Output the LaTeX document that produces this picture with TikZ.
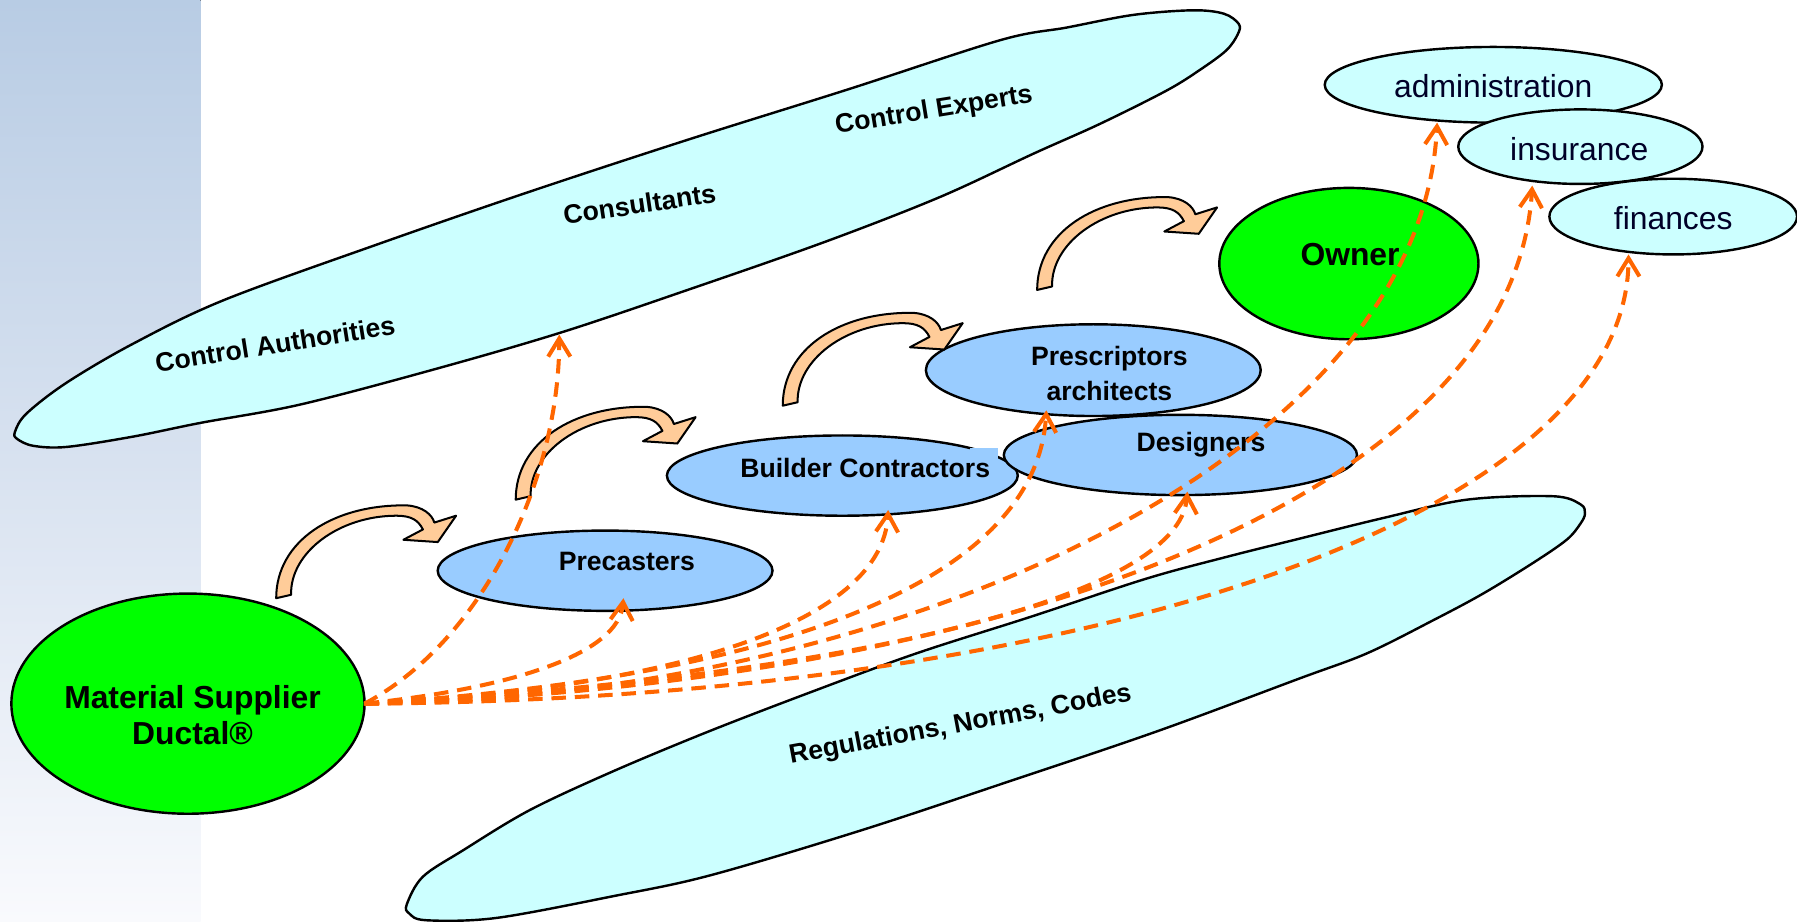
\documentclass[tikz,border=0pt]{standalone}
\usepackage{fontspec}
\setmainfont{Liberation Sans}
\usetikzlibrary{shapes.geometric,arrows.meta,calc}
\definecolor{cyanfill}{RGB}{204,255,255}
\definecolor{bluefill}{RGB}{153,204,255}
\definecolor{greenfill}{RGB}{0,255,0}
\definecolor{peach}{RGB}{255,204,153}
\definecolor{arrorange}{RGB}{255,102,0}
\definecolor{navytext}{RGB}{0,0,40}
\definecolor{stripTop}{RGB}{184,204,228}
\definecolor{stripMid}{RGB}{216,226,240}
\definecolor{stripBot}{RGB}{249,250,253}
\begin{document}
\begin{tikzpicture}[x=0.01cm,y=-0.01cm,
  oval/.style={ellipse, draw=black, line width=0.6pt, inner sep=0pt, outer sep=0pt},
  freeshape/.style={draw=black, line width=0.6pt, fill=cyanfill},
  smalllbl/.style={font=\fontsize{6.6pt}{8.8pt}\selectfont\bfseries, inner sep=0pt, align=center},
  biglbl/.style={font=\fontsize{7.9pt}{9.1pt}\selectfont\bfseries, inner sep=0pt, align=center},
  reglbl/.style={font=\fontsize{7.9pt}{9.1pt}\selectfont, text=navytext, inner sep=0pt},
  flowarrow/.style={draw=arrorange, line width=1pt, dash pattern=on 3.6pt off 2.2pt,
    -{Straight Barb[length=4.5pt,width=5.5pt]}},
  bentarrow/.pic={
    \draw[fill=peach, line width=0.5pt, line join=round]
      (0,0) .. controls (0,-50) and (50,-82) .. (114,-81)
      .. controls (128,-80) and (136,-73) .. (138,-66)
      -- (157,-72) -- (141,-49) -- (111,-51) -- (128,-60)
      .. controls (124,-68) and (118,-72) .. (105,-72)
      .. controls (55,-72) and (12,-40) .. (13,-3) -- cycle;
  }]
\useasboundingbox (0,0) rectangle (1568,804);
% background strip
\fill[top color=stripTop, bottom color=stripBot, middle color=stripMid] (0,0) rectangle (175,804);

% big cyan shape: control bodies
\draw[freeshape] plot[smooth cycle, tension=0.55] coordinates {
  (13,377) (23,361) (58,334) (116,300) (195,262) (330,213) (460,168) (600,122)
  (740,78) (873,35) (931,24) (989,13) (1041,9) (1068,12) (1081,21) (1080,30)
  (1070,44) (1047,61) (1018,79) (960,108) (902,134) (820,172) (720,211)
  (600,253) (490,290) (380,322) (262,353) (175,369) (116,381) (58,390) (29,389) (15,383)};
\coordinate (ca) at (547,200);
\node[smalllbl, rotate=9] (tca) at (240,300) {Control Authorities};
\node[smalllbl, rotate=8.5] (tcons) at (558,178) {Consultants};
\node[smalllbl, rotate=9.2] (texp) at (815,97) {Control Experts};

% big cyan shape: regulations
\draw[freeshape] plot[smooth cycle, tension=0.55] coordinates {
  (355,789) (369,765) (404,742) (462,707) (535,673) (619,638) (710,603) (800,570)
  (900,538) (1000,505) (1070,486) (1134,470) (1207,452) (1280,436) (1355,433)
  (1379,440) (1383,448) (1379,457) (1367,471) (1338,491) (1294,518) (1251,541)
  (1193,570) (1134,592) (1010,638) (880,682) (750,725) (619,764) (535,782)
  (433,801) (372,803) (357,797)};
\coordinate (reg) at (870,622);
\node[smalllbl, rotate=10.5] (treg) at (838,633) {Regulations, Norms, Codes};

% green ellipses
\node[oval, fill=greenfill, minimum width=3.08cm, minimum height=1.92cm] (ms) at (164,614) {};
\node[biglbl] (tms) at (168,624) {Material Supplier\\Ductal®};
\node[oval, fill=greenfill, minimum width=2.26cm, minimum height=1.32cm] (owner) at (1177,230) {};
\node[biglbl] (towner) at (1178,222) {Owner};

% blue ellipses
\node[oval, fill=bluefill, minimum width=2.92cm, minimum height=0.70cm] (prec) at (528,498) {};
\node[smalllbl] (tprec) at (547,490) {Precasters};
\node[oval, fill=bluefill, minimum width=3.06cm, minimum height=0.70cm] (build) at (735,415) {};
\fill[bluefill] (846,391) rectangle (871,420);
\node[smalllbl] (tbuild) at (755,408) {Builder Contractors};
\node[oval, fill=bluefill, minimum width=2.92cm, minimum height=0.80cm] (presc) at (954,323) {};
\node[smalllbl] (tpresc) at (968,326) {Prescriptors\\architects};
\node[oval, fill=bluefill, minimum width=3.08cm, minimum height=0.70cm] (des) at (1030,397) {};
\node[smalllbl] (tdes) at (1048,388) {Designers};

% small cyan ellipses
\node[oval, fill=cyanfill, minimum width=2.94cm, minimum height=0.66cm] (adm) at (1303,74) {};
\node[reglbl] (tadm) at (1303,75) {administration};
\node[oval, fill=cyanfill, minimum width=2.13cm, minimum height=0.65cm] (ins) at (1379,128) {};
\node[reglbl] (tins) at (1378,130) {insurance};
\node[oval, fill=cyanfill, minimum width=2.16cm, minimum height=0.66cm] (fin) at (1460,189) {};
\node[reglbl] (tfin) at (1460,190) {finances};

% curved block arrows
\pic at (241,522) {bentarrow};
\pic at (450,436) {bentarrow};
\pic at (683,354) {bentarrow};
\pic at (905,253) {bentarrow};

% dashed influence arrows
\draw[flowarrow] (ms.east) .. controls (420,560) and (488,420) .. ($(ca)+(-59,92)$);
\draw[flowarrow] (ms.east) .. controls (450,600) and (540,570) .. ($(prec.center)+(16,24)$);
\draw[flowarrow] (ms.east) .. controls (600,600) and (770,540) .. ($(build.center)+(40,30)$);
\draw[flowarrow] (ms.east) .. controls (700,590) and (905,500) .. ($(presc.center)+(-41,35)$);
\draw[flowarrow] (ms.east) .. controls (750,590) and (1030,520) .. ($(des.center)+(6,32)$);
\draw[flowarrow] (ms.east) .. controls (780,610) and (1240,400) .. ($(adm.center)+(-49,33)$);
\draw[flowarrow] (ms.east) .. controls (850,600) and (1320,440) .. ($(ins.center)+(-42,34)$);
\draw[flowarrow] (ms.east) .. controls (950,610) and (1420,450) .. ($(fin.center)+(-39,33)$);
\end{tikzpicture}
\end{document}
